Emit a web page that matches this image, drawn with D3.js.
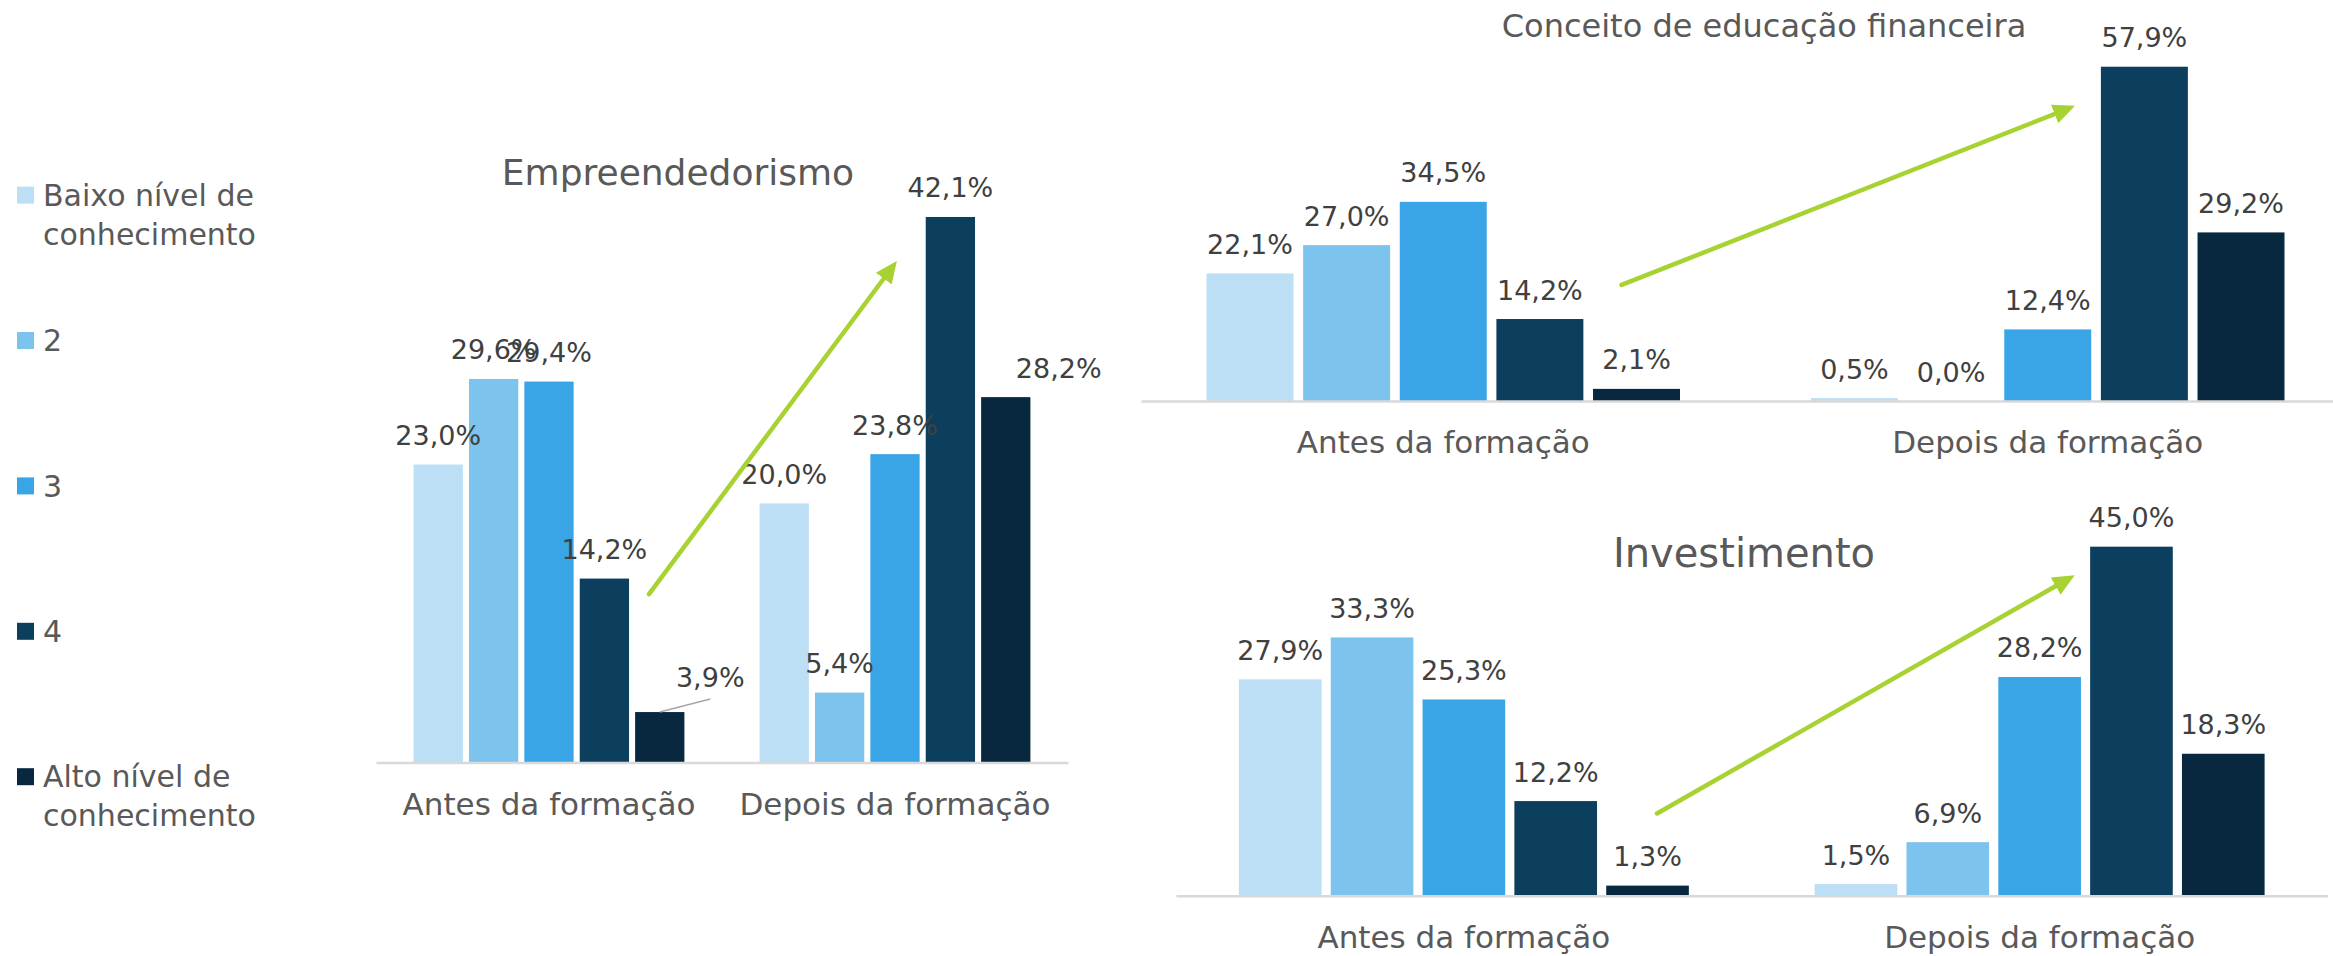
<!DOCTYPE html>
<html lang="pt">
<head>
<meta charset="utf-8">
<script src="https://cdn.jsdelivr.net/npm/d3@7"></script>
<style>
  html, body { margin: 0; padding: 0; background: #fff; }
  svg { display: block; font-family: "DejaVu Sans", sans-serif; }
</style>
</head>
<body>
<div id="chart"></div>
<script>
// ---- data ----
const categories = ["Antes da formação", "Depois da formação"];
const levels = ["Baixo nível de conhecimento", "2", "3", "4", "Alto nível de conhecimento"];
const legendLines = [["Baixo nível de", "conhecimento"], ["2"], ["3"], ["4"], ["Alto nível de", "conhecimento"]];
const levelColors = ["#BDDFF6", "#7CC3EE", "#3AA5E6", "#0C3F5E", "#08283F"];

const empreendedorismo = [
    [23.0, 29.6, 29.4, 14.2, 3.9],
    [20.0, 5.4, 23.8, 42.1, 28.2]
];
const educacaoFinanceira = [
    [22.1, 27.0, 34.5, 14.2, 2.1],
    [0.5, 0.0, 12.4, 57.9, 29.2]
];
const investimento = [
    [27.9, 33.3, 25.3, 12.2, 1.3],
    [1.5, 6.9, 28.2, 45.0, 18.3]
];

const W = 2333, H = 956;
const svg = d3.select("#chart").append("svg")
    .attr("width", W)
    .attr("height", H);

svg.append("defs").append("marker")
    .attr("id", "arrowhead")
    .attr("markerUnits", "userSpaceOnUse")
    .attr("viewBox", "0 0 20 20")
    .attr("refX", 14).attr("refY", 10)
    .attr("markerWidth", 22).attr("markerHeight", 22)
    .attr("orient", "auto")
    .append("path")
    .attr("d", "M0,1 L20,10 L0,19 Z")
    .attr("fill", "#A7D232");

const fmt = v => d3.format(".1f")(v).replace(".", ",") + "%";

// =========================
// one grouped bar panel
// =========================
function drawPanel(cfg) {
    const g = svg.append("g");
    const x0 = d3.scaleBand().domain(categories).range(cfg.xRange).padding(0);
    const bw = x0.bandwidth();
    const x1 = d3.scaleBand().domain(levels)
        .range([cfg.groupMargin, bw - cfg.groupMargin])
        .paddingInner(cfg.gap)
        .paddingOuter(0);
    const y = d3.scaleLinear().domain([0, cfg.yMax]).range([cfg.baseline, cfg.top]);

    const rows = categories.map((c, i) => ({ cat: c, vals: cfg.values[i] }));

    const groups = g.selectAll("g.grp").data(rows).enter().append("g")
        .attr("class", "grp")
        .attr("transform", d => `translate(${x0(d.cat)},0)`);

    groups.selectAll("rect")
        .data(d => d.vals.map((v, j) => ({ v, j, cat: d.cat })))
        .enter().append("rect")
        .attr("x", d => x1(levels[d.j]))
        .attr("y", d => y(d.v))
        .attr("width", x1.bandwidth())
        .attr("height", d => y(0) - y(d.v))
        .attr("fill", d => levelColors[d.j]);

    // axis with category labels
    const axis = g.append("g")
        .attr("transform", `translate(0,${cfg.baseline})`)
        .call(d3.axisBottom(x0).tickSize(0).tickPadding(30));
    axis.select(".domain").attr("stroke", "#D9D9D9").attr("stroke-width", 2.5);
    axis.selectAll("text")
        .attr("font-size", cfg.catSize)
        .attr("font-family", "DejaVu Sans, sans-serif")
        .attr("fill", "#595959");

    // value labels
    groups.each(function (d, i) {
        d3.select(this).selectAll("text.val")
            .data(d.vals.map((v, j) => ({ v, j })))
            .enter().append("text")
            .attr("class", "val")
            .attr("text-anchor", "middle")
            .attr("font-size", 27)
            .attr("fill", "#404040")
            .attr("x", e => x1(levels[e.j]) + x1.bandwidth() / 2 + ((cfg.shifts[`${i}-${e.j}`] || {}).dx || 0))
            .attr("y", e => y(e.v) - 19.5 + ((cfg.shifts[`${i}-${e.j}`] || {}).dy || 0))
            .text(e => fmt(e.v));

        d.vals.forEach((v, j) => {
            const s = cfg.shifts[`${i}-${j}`];
            if (s && s.leader) {
                const cx = x1(levels[j]) + x1.bandwidth() / 2;
                d3.select(this).append("line")
                    .attr("x1", cx).attr("y1", y(v))
                    .attr("x2", cx + s.dx).attr("y2", y(v) - 13)
                    .attr("stroke", "#A6A6A6").attr("stroke-width", 1.5);
            }
        });
    });

    // title
    g.append("text")
        .attr("x", cfg.title.x)
        .attr("y", cfg.title.y)
        .attr("text-anchor", "middle")
        .attr("font-size", cfg.title.size)
        .attr("fill", "#595959")
        .text(cfg.title.text);

    // trend arrow (given in band fraction / value units)
    const px = p => x0(categories[p[0]]) + p[1] * bw;
    g.append("line")
        .attr("x1", px(cfg.arrow[0])).attr("y1", y(cfg.arrow[0][2]))
        .attr("x2", px(cfg.arrow[1])).attr("y2", y(cfg.arrow[1][2]))
        .attr("stroke", "#A7D232")
        .attr("stroke-width", 4.5)
        .attr("stroke-linecap", "round")
        .attr("marker-end", "url(#arrowhead)");
}

drawPanel({
    values: empreendedorismo,
    xRange: [376, 1068], groupMargin: 37.6, gap: 0.11,
    baseline: 762.6, top: 179.4, yMax: 45,
    catSize: 31,
    title: { text: "Empreendedorismo", x: 678, y: 184.5, size: 36 },
    shifts: { "0-4": { dx: 50.5, dy: -5.6, leader: true }, "1-4": { dx: 53, dy: 0 } },
    arrow: [[0, 0.789, 13.0], [1, 0.494, 38.3]]
});

drawPanel({
    values: educacaoFinanceira,
    xRange: [1141, 2350], groupMargin: 65.5, gap: 0.10,
    baseline: 401, top: 54.6, yMax: 60,
    catSize: 31,
    title: { text: "Conceito de educação financeira", x: 1764, y: 36.7, size: 32 },
    shifts: {},
    arrow: [[0, 0.795, 20.1], [1, 0.535, 50.7]]
});

drawPanel({
    values: investimento,
    xRange: [1176, 2327.5], groupMargin: 62.9, gap: 0.10,
    baseline: 895.7, top: 507.9, yMax: 50,
    catSize: 31,
    title: { text: "Investimento", x: 1744, y: 566.7, size: 40 },
    shifts: {},
    arrow: [[0, 0.8355, 10.6], [1, 0.551, 40.9]]
});

// =========================
// LEGEND
// =========================
const legend = svg.append("g");
const item = legend.selectAll("g").data(levels).enter().append("g")
    .attr("transform", (d, i) => `translate(17,${205.8 + i * 145.4})`);
item.append("rect")
    .attr("x", 0).attr("y", -19.2)
    .attr("width", 17).attr("height", 17)
    .attr("fill", (d, i) => levelColors[i]);
item.append("text")
    .attr("x", 26)
    .attr("font-size", 30)
    .attr("fill", "#595959")
    .selectAll("tspan")
    .data((d, i) => legendLines[i])
    .enter().append("tspan")
    .attr("x", 26)
    .attr("dy", (d, k) => k === 0 ? 0 : 39)
    .text(d => d);
</script>
</body>
</html>
